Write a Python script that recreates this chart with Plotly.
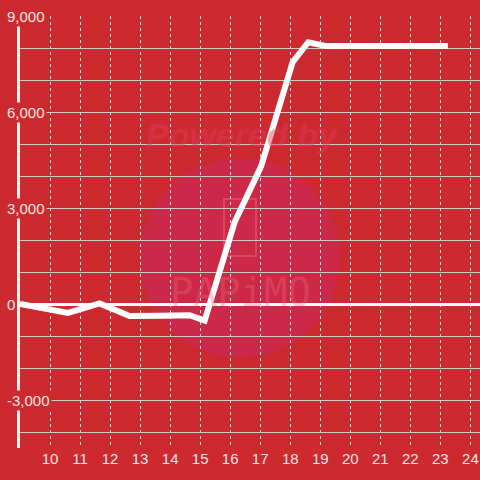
import plotly.graph_objects as go

# Data
x_values = [9.0, 10.6, 11.65, 12.65, 13.65, 14.65, 15.15, 16.15, 17.03, 18.08, 18.6, 19.2, 20.2, 21.2, 22.2, 23.25]
y_values = [0, -280, 20, -375, -370, -350, -520, 2560, 4300, 7560, 8180, 8060, 8060, 8060, 8060, 8060]
x_tick_values = list(range(10, 25))
y_label_values = [-3000, 0, 3000, 6000, 9000]
y_label_texts = ["-3,000", "0", "3,000", "6,000", "9,000"]

BG = "#cc2a2f"
TXT = "#f6e4e4"
W, H = 480, 480
ML, MR, MT, MB = 20, 0, 16, 32

def px_x(p):
    return (p - ML) / (W - ML - MR)

def px_y(p):
    return (H - MB - p) / (H - MT - MB)

fig = go.Figure()
fig.add_trace(go.Scatter(
    x=x_values, y=y_values, mode="lines",
    line=dict(color="white", width=6),
    hoverinfo="skip", showlegend=False,
))

shapes = [
    dict(type="circle", xref="paper", yref="paper",
         x0=px_x(140), x1=px_x(340), y0=px_y(358), y1=px_y(158),
         fillcolor="#cc2847", line=dict(width=0), layer="below"),
    dict(type="rect", xref="paper", yref="paper",
         x0=px_x(224), x1=px_x(256), y0=px_y(256), y1=px_y(199),
         fillcolor="rgba(0,0,0,0)", line=dict(color="rgba(235,110,120,0.45)", width=2), layer="below"),
]

annotations = [
    dict(text="<b><i>Powered by</i></b>", xref="paper", yref="paper",
         x=px_x(242), y=px_y(135), xanchor="center", yanchor="middle", showarrow=False,
         font=dict(family="Liberation Sans, Arial", size=34, color="rgba(225,55,95,0.45)")),
    dict(text="PAPiMO", xref="paper", yref="paper",
         x=px_x(240), y=px_y(292), xanchor="center", yanchor="middle", showarrow=False,
         font=dict(family="DejaVu Sans Mono", size=39, color="rgba(235,110,120,0.35)")),
]
for v, t in zip(y_label_values, y_label_texts):
    annotations.append(dict(
        text=t, xref="paper", yref="y", x=px_x(5), y=v,
        xanchor="left", yanchor="middle", showarrow=False,
        bgcolor=BG, borderpad=1,
        font=dict(family="Liberation Sans, Arial", size=15, color=TXT),
    ))

fig.update_layout(
    width=W, height=H,
    margin=dict(l=ML, r=MR, t=MT, b=MB, pad=0),
    paper_bgcolor=BG, plot_bgcolor=BG,
    shapes=shapes, annotations=annotations,
    xaxis=dict(
        range=[9, 24.32], tickvals=x_tick_values,
        ticktext=[str(v) for v in x_tick_values],
        showgrid=True, gridcolor="#e6e0e0", griddash="dot", gridwidth=1,
        showline=False, zeroline=False, ticks="",
        tickfont=dict(family="Liberation Sans, Arial", size=15, color=TXT),
        fixedrange=True,
    ),
    yaxis=dict(
        range=[-4500, 9000], dtick=1000, tick0=0,
        showgrid=True, gridcolor="#cfcaca", gridwidth=1,
        showticklabels=False, ticks="",
        showline=True, linecolor="#f4f0f0", linewidth=3,
        zeroline=True, zerolinecolor="white", zerolinewidth=3,
        fixedrange=True,
    ),
    showlegend=False,
)

fig.write_html(
    "out.html",
    post_script="document.body.style.margin='0';document.body.style.overflow='hidden';",
    config={"displayModeBar": False},
)
